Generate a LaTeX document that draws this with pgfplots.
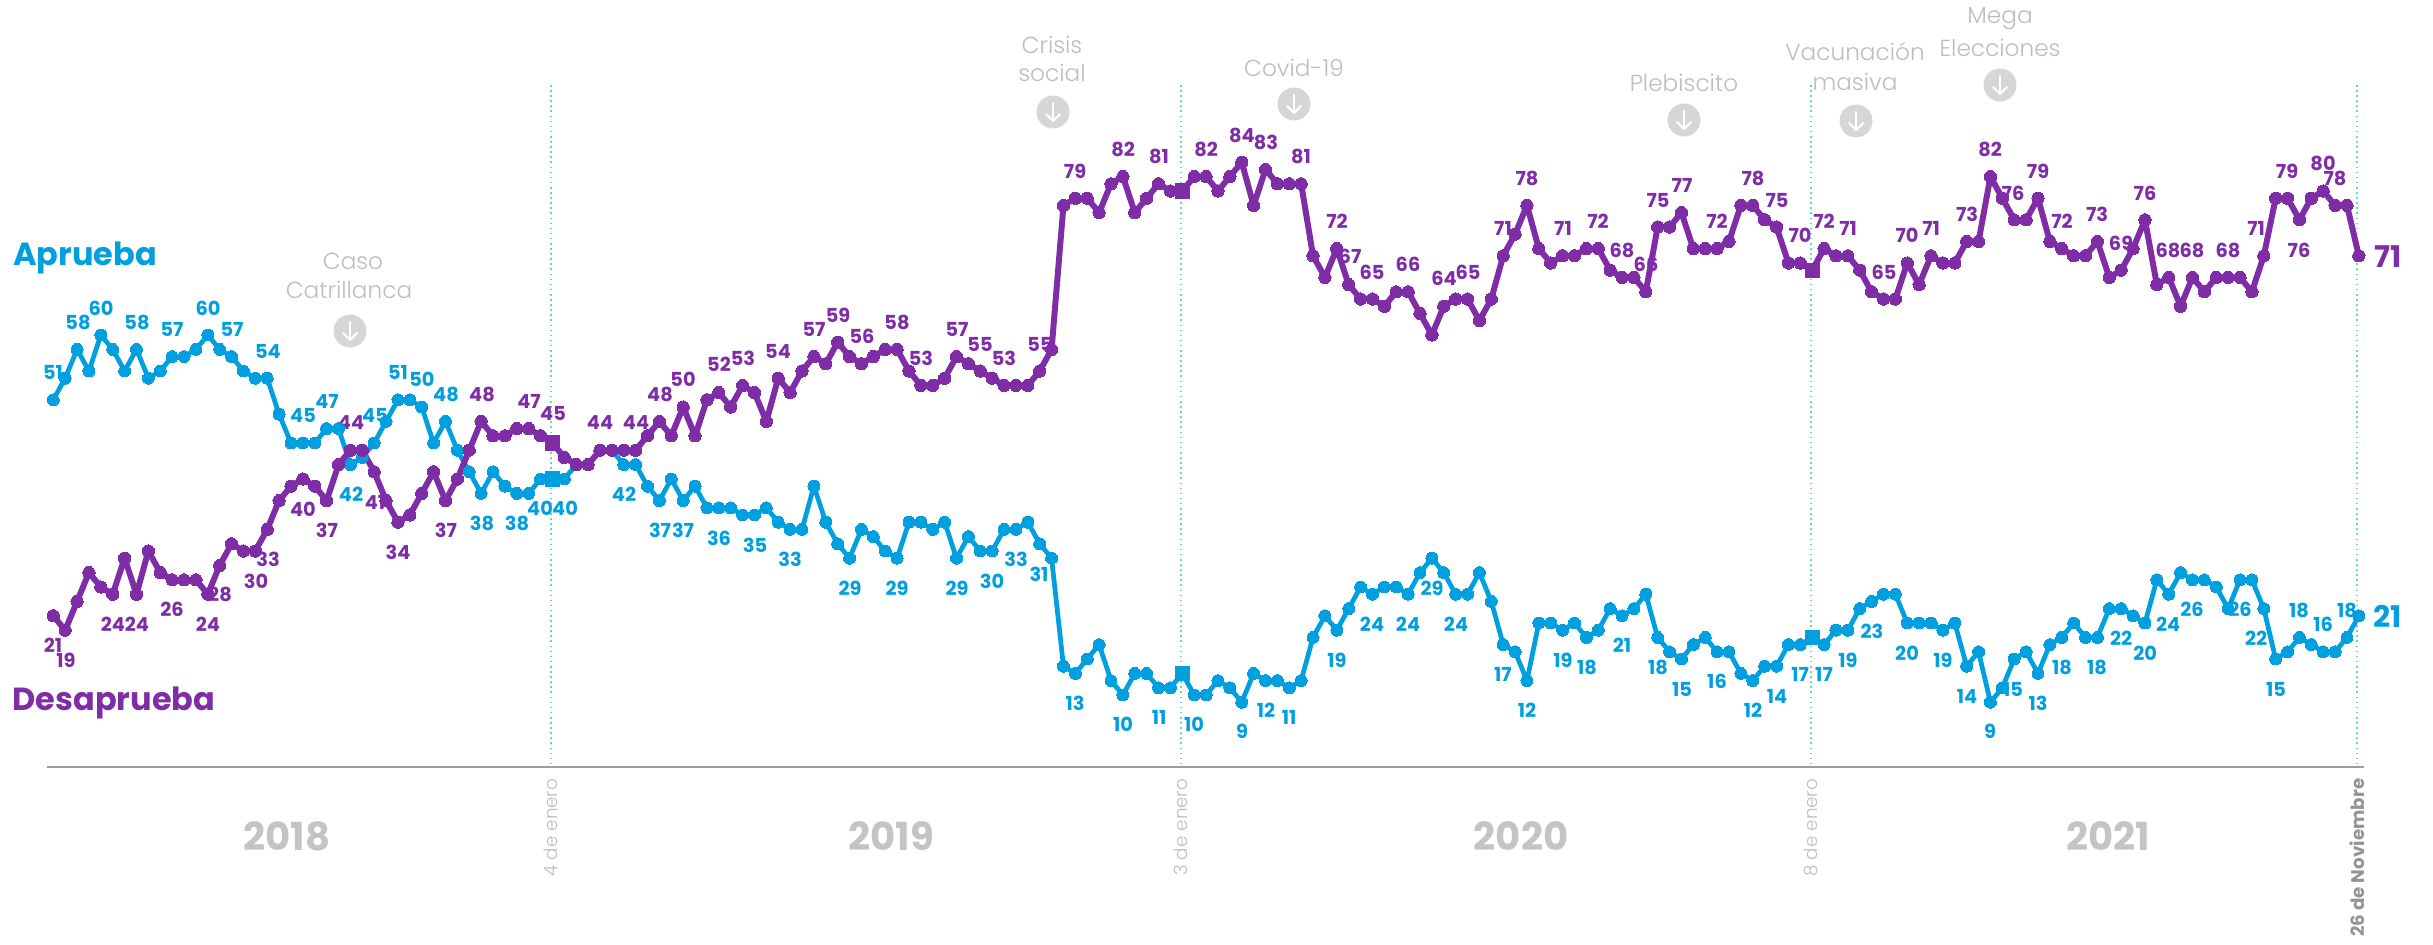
\documentclass[border=0pt]{standalone}
\usepackage{fontspec}
\setmainfont{Poppins}
\newfontfamily\lightf{Poppins Light}
\usepackage{pgfplots}
\pgfplotsset{compat=1.18}
\definecolor{azul}{HTML}{009FDF}
\definecolor{morado}{HTML}{7F2DA6}
\definecolor{menta}{HTML}{5FDDB5}
\definecolor{gristxt}{HTML}{BDBDBD}
\definecolor{griscirc}{HTML}{D6D6D6}
\definecolor{grisyear}{HTML}{C4C4C4}
\newcommand\px[2]{(axis cs:{(#1-53.3)/11.884},{(767-(#2))/7.2})}
\newcommand\bl[3]{\node[text=azul,font=\fontsize{5.5}{6}\bfseries,inner sep=0pt] at \px{#1}{#2} {#3};}
\newcommand\pu[3]{\node[text=morado,font=\fontsize{5.5}{6}\bfseries,inner sep=0pt] at \px{#1}{#2} {#3};}
\newcommand\gt[3]{\node[text=gristxt,font=\fontsize{6.6}{7}\lightf,inner sep=0pt] at \px{#1}{#2} {#3};}
\newcommand\ann[2]{%
  \fill[griscirc] \px{#1}{#2} circle[radius=0.165cm];
  \draw[white,line width=0.6pt,line cap=round] \px{#1}{#2-9} -- \px{#1}{#2+9};
  \draw[white,line width=0.6pt,line cap=round,line join=round] \px{#1-7}{#2+2} -- \px{#1}{#2+9} -- \px{#1+7}{#2+2};
}
\newcommand\vl[1]{\draw[menta,line width=0.45pt,densely dotted] \px{#1}{85} -- \px{#1}{767};}
\newcommand\yr[2]{\node[text=grisyear,font=\fontsize{11}{12}\bfseries,inner sep=0pt] at \px{#1}{836} {#2};}
\newcommand\dt[2]{\node[text=gristxt,font=\fontsize{5.2}{6}\lightf,rotate=90,anchor=east,inner sep=0pt] at \px{#1}{778} {#2};}
\begin{document}
\begin{tikzpicture}
\begin{axis}[
  scale only axis,width=24.33cm,height=9.45cm,
  axis lines=none,clip=false,
  xmin=-4.485,xmax=200.24,ymin=-24.72,ymax=106.53,
]
\path (rel axis cs:0,0) rectangle (rel axis cs:1,1);
\vl{551}\vl{1181}\vl{1811}\vl{2357}
\draw[black!38,line width=0.48pt] \px{47}{767} -- \px{2364}{767};
\yr{287}{2018}\yr{891}{2019}\yr{1521}{2020}\yr{2108}{2021}
\dt{551}{4 de enero}\dt{1181}{3 de enero}\dt{1811}{8 de enero}
\node[text=black!42,font=\fontsize{5.2}{6}\bfseries,rotate=90,anchor=east,inner sep=0pt] at \px{2357}{778} {26 de Noviembre};
% annotations
\gt{353}{261}{Caso}\gt{349}{290}{Catrillanca}\ann{350}{331}
\gt{1052}{45}{Crisis}\gt{1052}{73}{social}\ann{1053}{112}
\gt{1294}{68}{Covid-19}\ann{1294}{104}
\gt{1684}{83}{Plebiscito}\ann{1684}{120}
\gt{1855}{52}{Vacunación}\gt{1855}{82}{masiva}\ann{1856}{121}
\gt{2000}{19}{Mega}\gt{2000}{48}{Elecciones}\ann{2000}{85}
% series names
\node[text=azul,font=\fontsize{9.1}{10}\bfseries,inner sep=0pt] at \px{85}{258} {Aprueba};
\node[text=morado,font=\fontsize{9.1}{10}\bfseries,inner sep=0pt] at \px{114}{703} {Desaprueba};
\node[text=morado,font=\fontsize{8.5}{9}\bfseries,inner sep=0pt] at \px{2388}{257} {71};
\node[text=azul,font=\fontsize{8.5}{9}\bfseries,inner sep=0pt] at \px{2388}{616} {21};
% blue labels
\bl{53}{372}{51}\bl{78}{322}{58}\bl{101}{308}{60}\bl{137}{322}{58}\bl{172}{329}{57}\bl{208}{308}{60}\bl{232}{329}{57}\bl{268}{351}{54}\bl{303}{415}{45}\bl{327}{401}{47}\bl{351}{494}{42}\bl{375}{415}{45}\bl{398}{372}{51}
\bl{422}{379}{50}\bl{446}{394}{48}\bl{482}{523}{38}\bl{517}{523}{38}\bl{540}{508}{40}\bl{565}{508}{40}\bl{624}{494}{42}\bl{660}{530}{37}\bl{683}{530}{37}\bl{719}{538}{36}\bl{755}{545}{35}\bl{790}{559}{33}
\bl{850}{588}{29}\bl{897}{588}{29}\bl{957}{588}{29}\bl{992}{581}{30}\bl{1016}{559}{33}\bl{1039}{574}{31}\bl{1075}{703}{13}\bl{1123}{724}{10}\bl{1159}{717}{11}\bl{1194}{724}{10}
\bl{1242}{731}{9}\bl{1266}{710}{12}\bl{1289}{717}{11}\bl{1337}{660}{19}\bl{1372}{624}{24}\bl{1408}{624}{24}\bl{1432}{588}{29}\bl{1456}{624}{24}\bl{1503}{674}{17}\bl{1527}{710}{12}\bl{1563}{660}{19}\bl{1587}{667}{18}
\bl{1622}{645}{21}\bl{1658}{667}{18}\bl{1682}{689}{15}\bl{1717}{681}{16}\bl{1753}{710}{12}\bl{1777}{696}{14}\bl{1800}{674}{17}\bl{1824}{674}{17}\bl{1848}{660}{19}\bl{1872}{631}{23}\bl{1907}{653}{20}\bl{1943}{660}{19}\bl{1967}{696}{14}\bl{1990}{731}{9}\bl{2013}{689}{15}
\bl{2038}{703}{13}\bl{2062}{667}{18}\bl{2097}{667}{18}\bl{2121}{638}{22}\bl{2145}{653}{20}\bl{2168}{624}{24}\bl{2192}{609}{26}\bl{2240}{609}{26}\bl{2256}{638}{22}\bl{2276}{689}{15}\bl{2299}{610}{18}\bl{2323}{624}{16}\bl{2347}{610}{18}
% purple labels
\pu{53}{645}{21}\pu{66}{660}{19}\pu{113}{624}{24}\pu{137}{624}{24}\pu{172}{609}{26}\pu{220}{594}{28}\pu{208}{624}{24}\pu{268}{559}{33}\pu{256}{581}{30}\pu{303}{509}{40}\pu{327}{530}{37}\pu{351}{423}{44}\pu{375}{502}{41}\pu{398}{552}{34}
\pu{446}{530}{37}\pu{482}{394}{48}\pu{529}{401}{47}\pu{553}{413}{45}\pu{600}{423}{44}\pu{636}{423}{44}\pu{660}{394}{48}\pu{683}{379}{50}\pu{719}{364}{52}\pu{743}{358}{53}\pu{778}{351}{54}\pu{814}{329}{57}
\pu{838}{315}{59}\pu{862}{336}{56}\pu{897}{322}{58}\pu{921}{358}{53}\pu{957}{329}{57}\pu{980}{344}{55}\pu{1004}{358}{53}\pu{1040}{344}{55}\pu{1075}{171}{79}\pu{1123}{149}{82}\pu{1159}{156}{81}\pu{1206}{149}{82}
\pu{1242}{135}{84}\pu{1266}{142}{83}\pu{1301}{156}{81}\pu{1337}{221}{72}\pu{1350}{256}{67}\pu{1372}{272}{65}\pu{1408}{264}{66}\pu{1444}{278}{64}\pu{1468}{272}{65}\pu{1503}{228}{71}\pu{1527}{178}{78}\pu{1563}{228}{71}\pu{1598}{221}{72}
\pu{1622}{250}{68}\pu{1646}{264}{66}\pu{1658}{200}{75}\pu{1682}{185}{77}\pu{1717}{221}{72}\pu{1753}{178}{78}\pu{1777}{200}{75}\pu{1800}{235}{70}\pu{1824}{221}{72}\pu{1848}{228}{71}\pu{1884}{272}{65}\pu{1907}{235}{70}\pu{1931}{228}{71}\pu{1967}{214}{73}\pu{1990}{149}{82}\pu{2013}{193}{76}
\pu{2038}{171}{79}\pu{2062}{221}{72}\pu{2097}{214}{73}\pu{2121}{243}{69}\pu{2145}{193}{76}\pu{2168}{250}{68}\pu{2192}{250}{68}\pu{2228}{250}{68}\pu{2256}{228}{71}\pu{2287}{171}{79}\pu{2299}{250}{76}\pu{2323}{163}{80}\pu{2335}{178}{78}
% Aprueba
\addplot[azul,line width=1.35pt,line join=round,mark=*,mark size=1.7pt,mark options={fill=azul,draw=azul,line width=0pt}] coordinates {
(0,51)(1,54)(2,58)(3,55)(4,60)(5,58)(6,55)(7,58)(8,54)(9,55)(10,57)(11,57)(12,58)(13,60)(14,58)(15,57)(16,55)(17,54)(18,54)(19,49)
(20,45)(21,45)(22,45)(23,47)(24,47)(25,42)(26,43)(27,45)(28,48)(29,51)(30,51)(31,50)(32,45)(33,48)(34,44)(35,41)(36,38)(37,41)(38,39)(39,38)
(40,38)(41,40)(42,40)(43,40)(44,42)(45,42)(46,44)(47,44)(48,42)(49,42)(50,39)(51,37)(52,40)(53,37)(54,39)(55,36)(56,36)(57,36)(58,35)(59,35)
(60,36)(61,34)(62,33)(63,33)(64,39)(65,34)(66,31)(67,29)(68,33)(69,32)(70,30)(71,29)(72,34)(73,34)(74,33)(75,34)(76,29)(77,32)(78,30)(79,30)
(80,33)(81,33)(82,34)(83,31)(84,29)(85,14)(86,13)(87,15)(88,17)(89,12)(90,10)(91,13)(92,13)(93,11)(94,11)(95,13)(96,10)(97,10)(98,12)(99,11)
(100,9)(101,13)(102,12)(103,12)(104,11)(105,12)(106,18)(107,21)(108,19)(109,22)(110,25)(111,24)(112,25)(113,25)(114,24)(115,27)(116,29)(117,27)(118,24)(119,24)
(120,27)(121,23)(122,17)(123,16)(124,12)(125,20)(126,20)(127,19)(128,20)(129,18)(130,19)(131,22)(132,21)(133,22)(134,24)(135,18)(136,16)(137,15)(138,17)(139,18)
(140,16)(141,16)(142,13)(143,12)(144,14)(145,14)(146,17)(147,17)(148,18)(149,17)(150,19)(151,19)(152,22)(153,23)(154,24)(155,24)(156,20)(157,20)(158,20)(159,19)
(160,20)(161,14)(162,16)(163,9)(164,11)(165,15)(166,16)(167,13)(168,17)(169,18)(170,20)(171,18)(172,18)(173,22)(174,22)(175,21)(176,20)(177,26)(178,24)(179,27)
(180,26)(181,26)(182,25)(183,22)(184,26)(185,26)(186,22)(187,15)(188,16)(189,18)(190,17)(191,16)(192,16)(193,18)(194,21)
};
\addplot[only marks,mark=square*,mark size=2pt,mark options={fill=azul,draw=azul,line width=0pt}] coordinates {(42,40)(95,13)(148,18)};
% Desaprueba
\addplot[morado,line width=1.7pt,line join=round,mark=*,mark size=1.75pt,mark options={fill=morado,draw=morado,line width=0pt}] coordinates {
(0,21)(1,19)(2,23)(3,27)(4,25)(5,24)(6,29)(7,24)(8,30)(9,27)(10,26)(11,26)(12,26)(13,24)(14,28)(15,31)(16,30)(17,30)(18,33)(19,37)
(20,39)(21,40)(22,39)(23,37)(24,42)(25,44)(26,44)(27,41)(28,37)(29,34)(30,35)(31,38)(32,41)(33,37)(34,40)(35,44)(36,48)(37,46)(38,46)(39,47)
(40,47)(41,46)(42,45)(43,43)(44,42)(45,42)(46,44)(47,44)(48,44)(49,44)(50,46)(51,48)(52,46)(53,50)(54,46)(55,51)(56,52)(57,50)(58,53)(59,52)
(60,48)(61,54)(62,52)(63,55)(64,57)(65,56)(66,59)(67,57)(68,56)(69,57)(70,58)(71,58)(72,55)(73,53)(74,53)(75,54)(76,57)(77,56)(78,55)(79,54)
(80,53)(81,53)(82,53)(83,55)(84,58)(85,78)(86,79)(87,79)(88,77)(89,81)(90,82)(91,77)(92,79)(93,81)(94,80)(95,80)(96,82)(97,82)(98,80)(99,82)
(100,84)(101,78)(102,83)(103,81)(104,81)(105,81)(106,71)(107,68)(108,72)(109,67)(110,65)(111,65)(112,64)(113,66)(114,66)(115,63)(116,60)(117,64)(118,65)(119,65)
(120,62)(121,65)(122,71)(123,74)(124,78)(125,72)(126,70)(127,71)(128,71)(129,72)(130,72)(131,69)(132,68)(133,68)(134,66)(135,75)(136,75)(137,77)(138,72)(139,72)
(140,72)(141,73)(142,78)(143,78)(144,76)(145,75)(146,70)(147,70)(148,69)(149,72)(150,71)(151,71)(152,69)(153,66)(154,65)(155,65)(156,70)(157,67)(158,71)(159,70)
(160,70)(161,73)(162,73)(163,82)(164,79)(165,76)(166,76)(167,79)(168,73)(169,72)(170,71)(171,71)(172,73)(173,68)(174,69)(175,72)(176,76)(177,67)(178,68)(179,64)
(180,68)(181,66)(182,68)(183,68)(184,68)(185,66)(186,71)(187,79)(188,79)(189,76)(190,79)(191,80)(192,78)(193,78)(194,71)
};
\addplot[only marks,mark=square*,mark size=2pt,mark options={fill=morado,draw=morado,line width=0pt}] coordinates {(42,45)(95,80)(148,69)};
\end{axis}
\end{tikzpicture}
\end{document}
